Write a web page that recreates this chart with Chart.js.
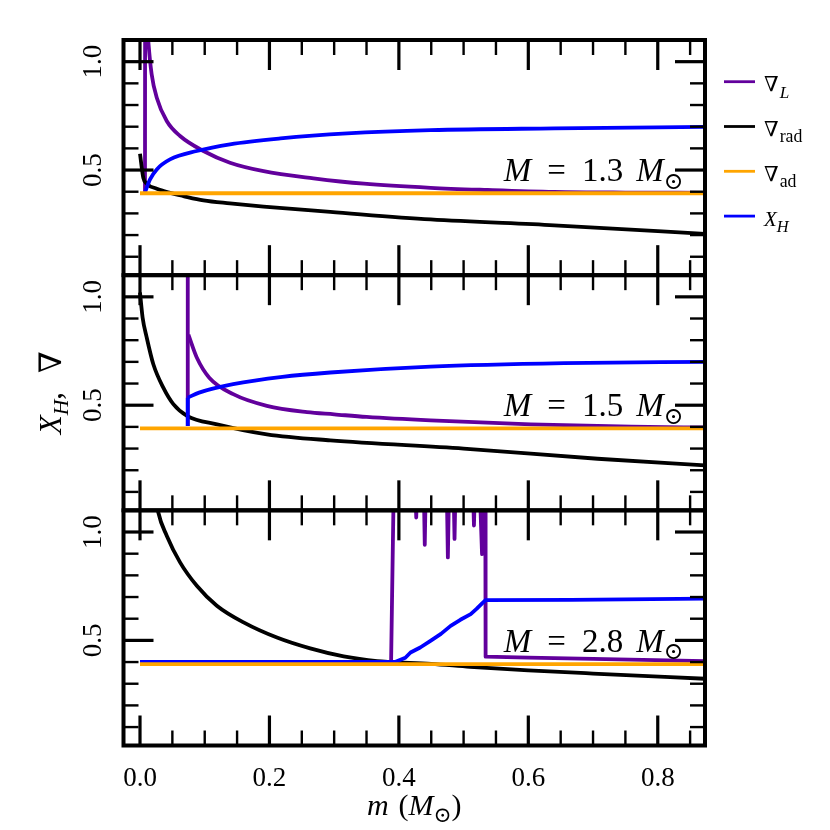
<!DOCTYPE html>
<html>
<head>
<meta charset="utf-8">
<script src="https://cdn.jsdelivr.net/npm/chart.js@4.4.0/dist/chart.umd.min.js"></script>
<style>
  html, body { margin: 0; padding: 0; background: #ffffff; }
  #wrap { width: 830px; height: 830px; position: relative; }
</style>
</head>
<body>
<div id="wrap"><canvas id="c" width="830" height="830"></canvas></div>
<script>
// ---------------- data ----------------
const panelMasses = ['1.3', '1.5', '2.8'];
const xTickValues = [0.0, 0.2, 0.4, 0.6, 0.8];
const xMinorTicks = [0.05, 0.1, 0.15, 0.25, 0.3, 0.35, 0.45, 0.5, 0.55, 0.65, 0.7, 0.75, 0.85];
const yTickValues = [0.5, 1.0];
const yMinorTicks = [0.1, 0.2, 0.3, 0.4, 0.6, 0.7, 0.8, 0.9];
const seriesNames = ['∇L', '∇rad', '∇ad', 'XH'];

// M = 1.3 Msun
const m13_L_x   = [0.0077, 0.0080, 0.0105, 0.0128, 0.018, 0.0259, 0.0413, 0.0619, 0.098, 0.139, 0.191, 0.268, 0.346, 0.449, 0.537, 0.64, 0.75, 0.88];
const m13_L_y   = [0.400, 1.40, 1.20, 1.095, 0.942, 0.834, 0.726, 0.657, 0.588, 0.534, 0.495, 0.462, 0.437, 0.418, 0.408, 0.399, 0.396, 0.395];
const m13_rad_x = [0.0, 0.0051, 0.0104, 0.0259, 0.0464, 0.067, 0.098, 0.139, 0.191, 0.294, 0.449, 0.640, 0.88];
const m13_rad_y = [0.575, 0.464, 0.437, 0.414, 0.395, 0.380, 0.360, 0.346, 0.331, 0.307, 0.272, 0.245, 0.204];
const m13_ad_x  = [0.0, 0.88];
const m13_ad_y  = [0.393, 0.393];
const m13_XH_x  = [0.0077, 0.0155, 0.0259, 0.0464, 0.0877, 0.139, 0.217, 0.320, 0.449, 0.640, 0.88];
const m13_XH_y  = [0.397, 0.457, 0.503, 0.549, 0.588, 0.619, 0.646, 0.669, 0.684, 0.692, 0.699];

// M = 1.5 Msun
const m15_Ljump_x  = [0.0738, 0.0738];
const m15_Ljump_y  = [0.404, 1.25];
const m15_L_x      = [0.0748, 0.0877, 0.107, 0.144, 0.196, 0.258, 0.30, 0.35, 0.449, 0.604, 0.759, 0.88];
const m15_L_y      = [0.825, 0.72, 0.627, 0.551, 0.497, 0.468, 0.458, 0.446, 0.430, 0.412, 0.401, 0.397];
const m15_rad_x    = [0.0, 0.004, 0.0104, 0.0206, 0.036, 0.0515, 0.0732, 0.119, 0.196, 0.294, 0.5, 0.707, 0.88];
const m15_rad_y    = [1.02, 0.905, 0.812, 0.689, 0.581, 0.505, 0.450, 0.412, 0.366, 0.338, 0.300, 0.253, 0.221];
const m15_ad_x     = [0.0, 0.88];
const m15_ad_y     = [0.393, 0.393];
const m15_XHjump_x = [0.0738, 0.0738];
const m15_XHjump_y = [0.404, 0.535];
const m15_XH_x     = [0.0738, 0.0913, 0.144, 0.22, 0.294, 0.449, 0.655, 0.88];
const m15_XH_y     = [0.535, 0.558, 0.597, 0.631, 0.651, 0.678, 0.694, 0.700];

// M = 2.8 Msun
const m28_L_x   = [0.388, 0.392, 0.4255, 0.4268, 0.428, 0.4385, 0.440, 0.4415, 0.474, 0.4757, 0.4775, 0.4845, 0.486, 0.4875, 0.5145, 0.516, 0.5175, 0.525, 0.5285, 0.530, 0.5335, 0.534, 0.60, 0.70, 0.88];
const m28_L_y   = [0.406, 1.20, 1.20, 1.067, 1.20, 1.20, 0.941, 1.20, 1.20, 0.883, 1.20, 1.20, 0.968, 1.20, 1.20, 1.030, 1.20, 1.20, 0.898, 1.20, 1.20, 0.425, 0.420, 0.415, 0.404];
const m28_rad_x = [0.0275, 0.0283, 0.0413, 0.0619, 0.0878, 0.1187, 0.16, 0.2116, 0.263, 0.3147, 0.3664, 0.387, 0.45, 0.51, 0.60, 0.70, 0.88];
const m28_rad_y = [1.105, 1.09, 0.983, 0.86, 0.752, 0.66, 0.583, 0.513, 0.463, 0.426, 0.404, 0.400, 0.392, 0.378, 0.362, 0.347, 0.322];
const m28_ad_x  = [0.0, 0.88];
const m28_ad_y  = [0.390, 0.390];
const m28_XH_x  = [0.0, 0.395, 0.41, 0.418, 0.433, 0.45, 0.465, 0.48, 0.495, 0.511, 0.52, 0.529, 0.534, 0.666, 0.88];
const m28_XH_y  = [0.401, 0.401, 0.42, 0.444, 0.467, 0.50, 0.53, 0.567, 0.595, 0.621, 0.645, 0.672, 0.686, 0.687, 0.693];

// ---------------- styling ----------------
const SERIF = '"Liberation Serif", "DejaVu Serif", serif';
const seriesColors = ['#62009c', '#000000', '#ffa500', '#0000ff'];
const seriesOrder  = [3, 2, 0, 1];   // lower order = drawn on top
const X_MIN = -0.0255, X_MAX = 0.873;
const Y_MIN = 0.015, Y_MAX = 1.1;

const panels = [
  { id: 'yTop', mass: panelMasses[0], lines: [
    { k: 0, x: m13_L_x, y: m13_L_y, smooth: true },
    { k: 1, x: m13_rad_x, y: m13_rad_y, smooth: true },
    { k: 2, x: m13_ad_x, y: m13_ad_y },
    { k: 3, x: m13_XH_x, y: m13_XH_y, smooth: true } ] },
  { id: 'yMid', mass: panelMasses[1], lines: [
    { k: 0, x: m15_Ljump_x, y: m15_Ljump_y },
    { k: 0, x: m15_L_x, y: m15_L_y, smooth: true },
    { k: 1, x: m15_rad_x, y: m15_rad_y, smooth: true },
    { k: 2, x: m15_ad_x, y: m15_ad_y },
    { k: 3, x: m15_XHjump_x, y: m15_XHjump_y },
    { k: 3, x: m15_XH_x, y: m15_XH_y, smooth: true } ] },
  { id: 'yBot', mass: panelMasses[2], lines: [
    { k: 0, x: m28_L_x, y: m28_L_y },
    { k: 1, x: m28_rad_x, y: m28_rad_y, smooth: true },
    { k: 2, x: m28_ad_x, y: m28_ad_y },
    { k: 3, x: m28_XH_x, y: m28_XH_y } ] }
];

const datasets = [];
panels.forEach(p => {
  p.lines.forEach(s => {
    const ds = {
      label: seriesNames[s.k] + ' (M=' + p.mass + ')',
      data: s.x.map((x, i) => ({ x: x, y: s.y[i] })),
      yAxisID: p.id,
      showLine: true,
      borderColor: seriesColors[s.k],
      backgroundColor: seriesColors[s.k],
      borderWidth: 3.8,
      pointRadius: 0,
      tension: 0,
      fill: false,
      clip: 0,
      borderJoinStyle: 'round',
      borderCapStyle: 'butt',
      order: seriesOrder[s.k]
    };
    if (s.smooth) ds.cubicInterpolationMode = 'monotone';
    datasets.push(ds);
  });
});

// ---------------- rich text helper ----------------
function drawRich(ctx, parts, x, y, size, align) {
  const segs = parts.map(p => {
    if (p.gap !== undefined) return { gap: true, w: p.gap };
    const ratio = p.sub ? (p.r || 0.7) : 1;
    const s = size * ratio;
    const font = (p.it ? 'italic ' : '') + s.toFixed(1) + 'px ' + SERIF;
    ctx.font = font;
    return { p: p, font: font, w: ctx.measureText(p.t).width, dy: p.sub ? size * (p.d || 0.24) : 0 };
  });
  const total = segs.reduce((a, s) => a + s.w, 0);
  let cx = align === 'center' ? x - total / 2 : (align === 'right' ? x - total : x);
  ctx.textAlign = 'left';
  ctx.textBaseline = 'alphabetic';
  segs.forEach(s => {
    if (!s.gap) { ctx.font = s.font; ctx.fillText(s.p.t, cx, y + s.dy); }
    cx += s.w;
  });
  return total;
}

const legendParts = [
  [{ t: '∇' }, { gap: 1 }, { t: 'L', it: 1, sub: 1, r: 0.82, d: 0.3 }],
  [{ t: '∇' }, { gap: 1 }, { t: 'rad', sub: 1, r: 0.85, d: 0.3 }],
  [{ t: '∇' }, { gap: 1 }, { t: 'ad', sub: 1, r: 0.85, d: 0.3 }],
  [{ t: 'X', it: 1 }, { t: 'H', it: 1, sub: 1, r: 0.78, d: 0.3 }]
];

// ---------------- plugin: frames, inward ticks, labels, legend ----------------
const decorations = {
  id: 'decorations',
  afterDatasetsDraw(chart) {
    const ctx = chart.ctx, xs = chart.scales.x;
    const L = xs.left, R = xs.right;
    const line = (x1, y1, x2, y2, w) => {
      ctx.lineWidth = w; ctx.beginPath(); ctx.moveTo(x1, y1); ctx.lineTo(x2, y2); ctx.stroke();
    };
    ctx.save();
    ctx.strokeStyle = '#000';
    ctx.lineCap = 'butt';
    panels.forEach(p => {
      const ys = chart.scales[p.id];
      const T = ys.top, B = ys.bottom;
      xMinorTicks.forEach(v => { const px = xs.getPixelForValue(v); line(px, T, px, T + 15, 2.4); line(px, B, px, B - 15, 2.4); });
      xTickValues.forEach(v => { const px = xs.getPixelForValue(v); line(px, T, px, T + 30, 3.2); line(px, B, px, B - 30, 3.2); });
      yMinorTicks.forEach(v => { const py = ys.getPixelForValue(v); line(L, py, L + 15, py, 2.4); line(R, py, R - 15, py, 2.4); });
      yTickValues.forEach(v => { const py = ys.getPixelForValue(v); line(L, py, L + 30, py, 3.2); line(R, py, R - 30, py, 3.2); });
      ctx.lineWidth = 4;
      ctx.strokeRect(L, T, R - L, B - T);
    });
    ctx.restore();
  },
  afterDraw(chart) {
    const ctx = chart.ctx, xs = chart.scales.x;
    const area = chart.chartArea;
    ctx.save();
    ctx.fillStyle = '#000';
    panels.forEach(p => {
      const ys = chart.scales[p.id];
      // rotated y tick labels
      yTickValues.forEach(v => {
        const py = ys.getPixelForValue(v);
        ctx.save();
        ctx.translate(area.left - 23, py);
        ctx.rotate(-Math.PI / 2);
        ctx.font = '27px ' + SERIF;
        ctx.textAlign = 'center';
        ctx.textBaseline = 'alphabetic';
        ctx.fillText(v.toFixed(1), 0, 0);
        ctx.restore();
      });
      // panel annotation
      drawRich(ctx, [{ t: 'M', it: 1 }, { gap: 16 }, { t: '=' }, { gap: 16 }, { t: p.mass }, { gap: 13 },
                     { t: 'M', it: 1 }, { t: '⊙', sub: 1, r: 0.72, d: 0.22 }],
        xs.getPixelForValue(0.84), ys.getPixelForValue(0.448), 33, 'right');
    });
    // axis titles
    drawRich(ctx, [{ t: 'm', it: 1 }, { gap: 10 }, { t: '(' }, { t: 'M', it: 1 }, { t: '⊙', sub: 1, r: 0.72, d: 0.22 }, { t: ')' }],
      (area.left + area.right) / 2, 815, 30, 'center');
    ctx.save();
    ctx.translate(61, (area.top + area.bottom) / 2);
    ctx.rotate(-Math.PI / 2);
    drawRich(ctx, [{ t: 'X', it: 1 }, { t: 'H', it: 1, sub: 1 }, { t: ',' }, { gap: 19 }, { t: '∇' }], 0, 0, 31, 'center');
    ctx.restore();
    // legend
    const lx = area.right + 19;
    legendParts.forEach((parts, k) => {
      const ly = area.top + 41.7 + k * 44.8;
      ctx.strokeStyle = seriesColors[k];
      ctx.lineWidth = 2.8;
      ctx.beginPath(); ctx.moveTo(lx, ly); ctx.lineTo(lx + 31, ly); ctx.stroke();
      drawRich(ctx, parts, lx + 40, ly + 9.5, 21, 'left');
    });
    ctx.restore();
  }
};

const yCommon = {
  type: 'linear', position: 'left', stack: 'panels', stackWeight: 1,
  min: Y_MIN, max: Y_MAX,
  grid: { display: false, drawTicks: false },
  border: { display: false },
  ticks: { display: false },
  afterFit: s => { s.width = 123.5; }
};

new Chart(document.getElementById('c'), {
  type: 'scatter',
  data: { datasets: datasets },
  options: {
    responsive: false,
    animation: false,
    devicePixelRatio: 1,
    events: [],
    layout: { padding: { top: 40, right: 125, left: 0, bottom: 0 } },
    plugins: { legend: { display: false }, tooltip: { enabled: false } },
    scales: {
      x: {
        type: 'linear', position: 'bottom', min: X_MIN, max: X_MAX,
        grid: { display: false, drawTicks: false },
        border: { display: false },
        afterBuildTicks: s => { s.ticks = xTickValues.map(v => ({ value: v })); },
        afterFit: s => { s.height = 84.5; },
        ticks: {
          autoSkip: false, maxRotation: 0, minRotation: 0, padding: 17,
          color: '#000', font: { family: SERIF, size: 27 },
          callback: v => Number(v).toFixed(1)
        }
      },
      yBot: Object.assign({}, yCommon),
      yMid: Object.assign({}, yCommon),
      yTop: Object.assign({}, yCommon)
    }
  },
  plugins: [decorations]
});
</script>
</body>
</html>
